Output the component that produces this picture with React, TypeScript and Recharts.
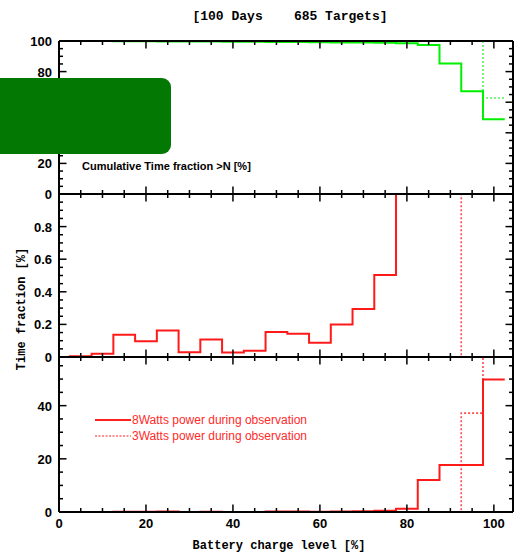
import { LineChart, Line, XAxis, YAxis } from 'recharts';

// histogram bins, centred every 5 % of battery charge
const binCenters = [0, 5, 10, 15, 20, 25, 30, 35, 40, 45, 50, 55, 60, 65, 70, 75, 80, 85, 90, 95, 100];

// time fraction [%] spent in each bin
const time8W = [0, 0.005, 0.02, 0.137, 0.096, 0.162, 0.029, 0.107, 0.027, 0.039, 0.154, 0.143, 0.088, 0.199, 0.295, 0.503, 1.2, 12, 17.7, 17.7, 49.8];
const time3W = [0, 0, 0, 0, 0, 0, 0, 0, 0, 0, 0, 0, 0, 0, 0, 0, 0, 0, 0, 37.2, 62.8];

// cumulative time fraction >N [%]
const cum8W = [100, 100, 100, 99.9, 99.8, 99.7, 99.6, 99.6, 99.5, 99.5, 99.4, 99.3, 99.2, 99.1, 99.0, 98.9, 98.5, 97.4, 85.3, 67.1, 48.9];
const cum3W = [100, 100, 100, 100, 100, 100, 100, 100, 100, 100, 100, 100, 100, 100, 100, 100, 100, 100, 100, 100, 62.7];

const xTicks = [0, 5, 10, 15, 20, 25, 30, 35, 40, 45, 50, 55, 60, 65, 70, 75, 80, 85, 90, 95, 100];
const topTicks = [0, 5, 10, 15, 20, 25, 30, 35, 40, 45, 50, 55, 60, 65, 70, 75, 80, 85, 90, 95, 100];
const midTicks = [0, 0.05, 0.1, 0.15, 0.2, 0.25, 0.3, 0.35, 0.4, 0.45, 0.5, 0.55, 0.6, 0.65, 0.7, 0.75, 0.8, 0.85, 0.9, 0.95, 1];
const lowTicks = [0, 5, 10, 15, 20, 25, 30, 35, 40, 45, 50, 55];

const seriesNames = ['8Watts power during observation', '3Watts power during observation'];

const W = 525;
const H = 552;
const X_MAX = 104.4;

// step points: each bin starts at its lower edge, last one closes at 102.5
const data = binCenters.map((c, i) => ({
  x: Math.max(0, c - 2.5),
  t8: time8W[i],
  t3: time3W[i],
  c8: cum8W[i],
  c3: cum3W[i],
}));
const last = binCenters.length - 1;
data.push({ x: 102.5, t8: time8W[last], t3: time3W[last], c8: cum8W[last], c3: cum3W[last] });

const tickFont = { fontFamily: '"Liberation Sans", Arial, sans-serif', fontWeight: 700, fontSize: 13 };

function makeTick(side: string, isMajor: (v: number) => boolean, label?: (v: number) => string | null) {
  return (props: any) => {
    const { x, y, payload } = props;
    const v = payload.value;
    const len = isMajor(v) ? 7.5 : 4;
    const txt = label ? label(v) : null;
    let x2 = x;
    let y2 = y;
    if (side === 'bottom') y2 = y - len;
    if (side === 'top') y2 = y + len;
    if (side === 'left') x2 = x + len;
    if (side === 'right') x2 = x - len;
    return (
      <g>
        <line x1={x} y1={y} x2={x2} y2={y2} stroke="#000" strokeWidth={1.5} />
        {txt !== null && side === 'bottom' && (
          <text x={x} y={y + 16} textAnchor="middle" fill="#000" style={tickFont}>
            {txt}
          </text>
        )}
        {txt !== null && side === 'left' && (
          <text x={x - 7} y={y + 5} textAnchor="end" fill="#000" style={tickFont}>
            {txt}
          </text>
        )}
      </g>
    );
  };
}

const every20 = (v: number) => Math.round(v) % 20 === 0;
const midMajor = (v: number) => Math.round(v / 0.05) % 4 === 0;
const axisLine = { stroke: '#000', strokeWidth: 2 };

interface PanelProps {
  top: number;
  bottom: number;
  yMax: number;
  yTicks: number[];
  yMajor: (v: number) => boolean;
  yLabel: (v: number) => string | null;
  solidKey: string;
  dottedKey: string;
  solidColor: string;
  dottedColor: string;
  xLabels?: boolean;
}

function Panel(p: PanelProps) {
  return (
    <div style={{ position: 'absolute', left: 0, top: 0 }}>
      <LineChart
        width={W}
        height={H}
        data={data}
        margin={{ top: p.top - 1, bottom: H - p.bottom - 1, left: 0, right: 11 }}
      >
        <XAxis
          xAxisId="b"
          dataKey="x"
          type="number"
          domain={[0, X_MAX]}
          ticks={xTicks}
          interval={0}
          height={1}
          tickSize={0}
          tickMargin={0}
          tickLine={false}
          axisLine={axisLine}
          tick={makeTick('bottom', every20, p.xLabels ? (v) => (every20(v) ? String(v) : null) : undefined)}
        />
        <XAxis
          xAxisId="t"
          orientation="top"
          dataKey="x"
          type="number"
          domain={[0, X_MAX]}
          ticks={xTicks}
          interval={0}
          height={1}
          tickSize={0}
          tickMargin={0}
          tickLine={false}
          axisLine={axisLine}
          tick={makeTick('top', every20)}
        />
        <YAxis
          yAxisId="l"
          type="number"
          domain={[0, p.yMax]}
          allowDataOverflow
          ticks={p.yTicks}
          interval={0}
          width={59}
          tickSize={0}
          tickMargin={0}
          tickLine={false}
          axisLine={axisLine}
          tick={makeTick('left', p.yMajor, p.yLabel)}
        />
        <YAxis
          yAxisId="r"
          orientation="right"
          type="number"
          domain={[0, p.yMax]}
          allowDataOverflow
          ticks={p.yTicks}
          interval={0}
          width={1}
          tickSize={0}
          tickMargin={0}
          tickLine={false}
          axisLine={axisLine}
          tick={makeTick('right', p.yMajor)}
        />
        <Line
          xAxisId="b"
          yAxisId="l"
          type="stepAfter"
          dataKey={p.dottedKey}
          stroke={p.dottedColor}
          strokeWidth={1.6}
          strokeDasharray="2 2"
          dot={false}
          isAnimationActive={false}
          name={seriesNames[1]}
        />
        <Line
          xAxisId="b"
          yAxisId="l"
          type="stepAfter"
          dataKey={p.solidKey}
          stroke={p.solidColor}
          strokeWidth={2}
          dot={false}
          isAnimationActive={false}
          name={seriesNames[0]}
        />
      </LineChart>
    </div>
  );
}

function LegendBox() {
  const rows = [
    { label: seriesNames[0], dash: undefined, width: 2 },
    { label: seriesNames[1], dash: '2 1.5', width: 1 },
  ];
  return (
    <div style={{ position: 'absolute', left: 95, top: 412 }}>
      {rows.map((r) => (
        <div key={r.label} style={{ display: 'flex', alignItems: 'center', height: 16 }}>
          <svg width={36} height={6}>
            <line x1={0} y1={3} x2={36} y2={3} stroke="#ff2020" strokeWidth={r.width} strokeDasharray={r.dash} />
          </svg>
          <span
            style={{
              marginLeft: 1,
              color: '#ff2a2a',
              fontFamily: '"Liberation Sans", Arial, sans-serif',
              fontSize: 12,
            }}
          >
            {r.label}
          </span>
        </div>
      ))}
    </div>
  );
}

export default function App() {
  return (
    <div style={{ position: 'relative', width: W, height: H, background: '#fff', overflow: 'hidden' }}>
      <style>{'body{margin:0}'}</style>
      <Panel
        top={41}
        bottom={194}
        yMax={100}
        yTicks={topTicks}
        yMajor={every20}
        yLabel={(v) => (every20(v) ? String(v) : null)}
        solidKey="c8"
        dottedKey="c3"
        solidColor="#00f000"
        dottedColor="#55f055"
      />
      <Panel
        top={194}
        bottom={357}
        yMax={1}
        yTicks={midTicks}
        yMajor={midMajor}
        yLabel={(v) => (midMajor(v) && v < 0.99 ? String(Math.round(v * 10) / 10) : null)}
        solidKey="t8"
        dottedKey="t3"
        solidColor="#ff1a1a"
        dottedColor="#ff4a4a"
      />
      <Panel
        top={357}
        bottom={512}
        yMax={58.3}
        yTicks={lowTicks}
        yMajor={every20}
        yLabel={(v) => (every20(v) ? String(v) : null)}
        solidKey="t8"
        dottedKey="t3"
        solidColor="#ff1a1a"
        dottedColor="#ff4a4a"
        xLabels
      />
      <LegendBox />

      <div
        style={{
          position: 'absolute',
          left: 0,
          width: W,
          top: 9,
          textAlign: 'center',
          paddingLeft: 55,
          boxSizing: 'border-box',
          fontFamily: '"Liberation Mono", monospace',
          fontWeight: 700,
          fontSize: 13,
          whiteSpace: 'pre',
        }}
      >
        {'[100 Days    685 Targets]'}
      </div>
      <div
        style={{
          position: 'absolute',
          left: 82,
          top: 160,
          fontFamily: '"Liberation Sans", Arial, sans-serif',
          fontWeight: 700,
          fontSize: 11,
        }}
      >
        Cumulative Time fraction &gt;N [%]
      </div>
      <div
        style={{
          position: 'absolute',
          left: 22,
          top: 309,
          transform: 'translate(-50%, -50%) rotate(-90deg)',
          fontFamily: '"Liberation Mono", monospace',
          fontWeight: 700,
          fontSize: 12,
          whiteSpace: 'nowrap',
        }}
      >
        Time fraction [%]
      </div>
      <div
        style={{
          position: 'absolute',
          left: 279,
          top: 546,
          transform: 'translate(-50%, -50%)',
          fontFamily: '"Liberation Mono", monospace',
          fontWeight: 700,
          fontSize: 12,
          whiteSpace: 'nowrap',
        }}
      >
        Battery charge level [%]
      </div>
      <div
        style={{
          position: 'absolute',
          left: -10,
          top: 78,
          width: 181,
          height: 76,
          borderRadius: 9,
          background: '#037803',
        }}
      />
    </div>
  );
}
